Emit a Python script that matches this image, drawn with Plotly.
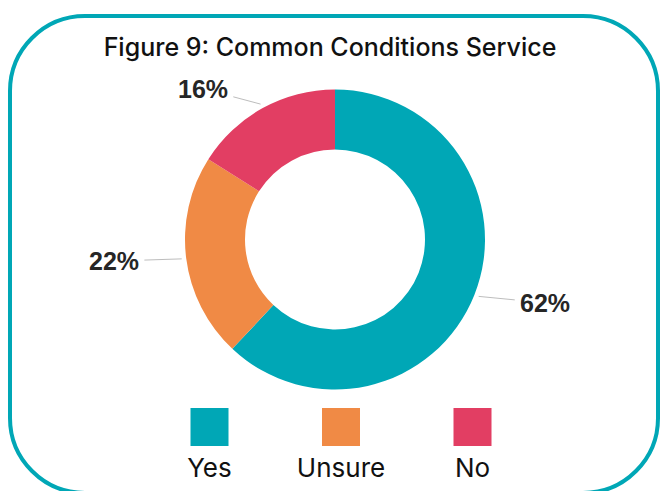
import math
import plotly.graph_objects as go

# ---- data ----
categories = ["Yes", "Unsure", "No"]
values = [62, 22, 16]
label_text = ["62%", "22%", "16%"]
colors = ["#00A7B6", "#F08A45", "#E23E63"]
title_text = "Figure 9: Common Conditions Service"

W, H = 660, 491

def fx(x):
    return x / W

def fy(y):
    return 1 - y / H

# pie placement (screen pixels)
CX, CY, R = 335, 239.5, 150
dom_x = [fx(CX - R), fx(CX + R)]
dom_y = [fy(CY + R), fy(CY - R)]

fig = go.Figure()
fig.add_trace(go.Pie(
    labels=categories, values=values, sort=False, direction="clockwise",
    rotation=0, hole=0.6, textinfo="none", hoverinfo="label+percent",
    marker=dict(colors=colors, line=dict(width=0)),
    domain=dict(x=dom_x, y=dom_y), showlegend=False,
))

# outside labels with leader lines, positioned from the slice angles
total = sum(values)
cum = 0
annotations = []
for v, t in zip(values, label_text):
    mid = (cum + v / 2) / total * 2 * math.pi
    cum += v
    px = CX + R * 1.03 * math.sin(mid)
    py = CY - R * 1.03 * math.cos(mid)
    s = math.sin(mid)
    sgn = 1 if s > 0 else -1
    annotations.append(dict(
        x=fx(px), y=fy(py), xref="paper", yref="paper",
        text="<b>" + t + "</b>", showarrow=True, arrowhead=0, arrowwidth=1,
        arrowcolor="#BDBDBD", standoff=0, startstandoff=4,
        ax=sgn * (48 + 20 * abs(s)), ay=-17.6 * math.cos(mid),
        font=dict(family="Liberation Sans, Arial", size=25, color="#262626"),
    ))

# legend drawn as a categorical row of squares with names below
fig.add_trace(go.Scatter(
    x=categories, y=[fy(427)] * 3, mode="markers",
    marker=dict(symbol="square", size=38, color=colors, line=dict(width=0)),
    hoverinfo="skip", showlegend=False, cliponaxis=False,
))
fig.add_trace(go.Scatter(
    x=categories, y=[fy(470)] * 3, mode="text",
    text=categories, textposition="middle center",
    textfont=dict(family="Inter", size=26, color="#111111"),
    hoverinfo="skip", showlegend=False, cliponaxis=False,
))

# rounded border
def P(x, y):
    return f"{fx(x):.5f},{fy(y):.5f}"

L, T, Rt, B, rad = 10, 16, 658, 493, 75
k = 0.5523
path = (
    f"M {P(L + rad, T)} L {P(Rt - rad, T)} "
    f"C {P(Rt - rad + rad * k, T)} {P(Rt, T + rad - rad * k)} {P(Rt, T + rad)} "
    f"L {P(Rt, B - rad)} "
    f"C {P(Rt, B - rad + rad * k)} {P(Rt - rad + rad * k, B)} {P(Rt - rad, B)} "
    f"L {P(L + rad, B)} "
    f"C {P(L + rad - rad * k, B)} {P(L, B - rad + rad * k)} {P(L, B - rad)} "
    f"L {P(L, T + rad)} "
    f"C {P(L, T + rad - rad * k)} {P(L + rad - rad * k, T)} {P(L + rad, T)} Z"
)

x_lo, x_hi = fx(341 - 1.5 * 131.5), fx(341 + 1.5 * 131.5)

fig.update_layout(
    width=W, height=H, margin=dict(l=0, r=0, t=0, b=0),
    paper_bgcolor="white", plot_bgcolor="rgba(0,0,0,0)",
    title=dict(text=title_text, x=fx(330), xanchor="center", y=fy(47),
               yanchor="middle", xref="paper", yref="paper",
               font=dict(family="Inter", size=25, color="#111111", weight=500)),
    xaxis=dict(domain=[x_lo, x_hi], range=[-0.5, 2.5], visible=False,
               type="category", fixedrange=True),
    yaxis=dict(domain=[0, 1], range=[0, 1], visible=False, fixedrange=True),
    annotations=annotations,
    shapes=[dict(type="path", path=path, xref="paper", yref="paper",
                 line=dict(color="#00A7B6", width=4), layer="above")],
)

fig.write_html(
    "out.html",
    config={"displayModeBar": False},
    post_script="document.body.style.margin='0';document.body.style.overflow='hidden';",
)
